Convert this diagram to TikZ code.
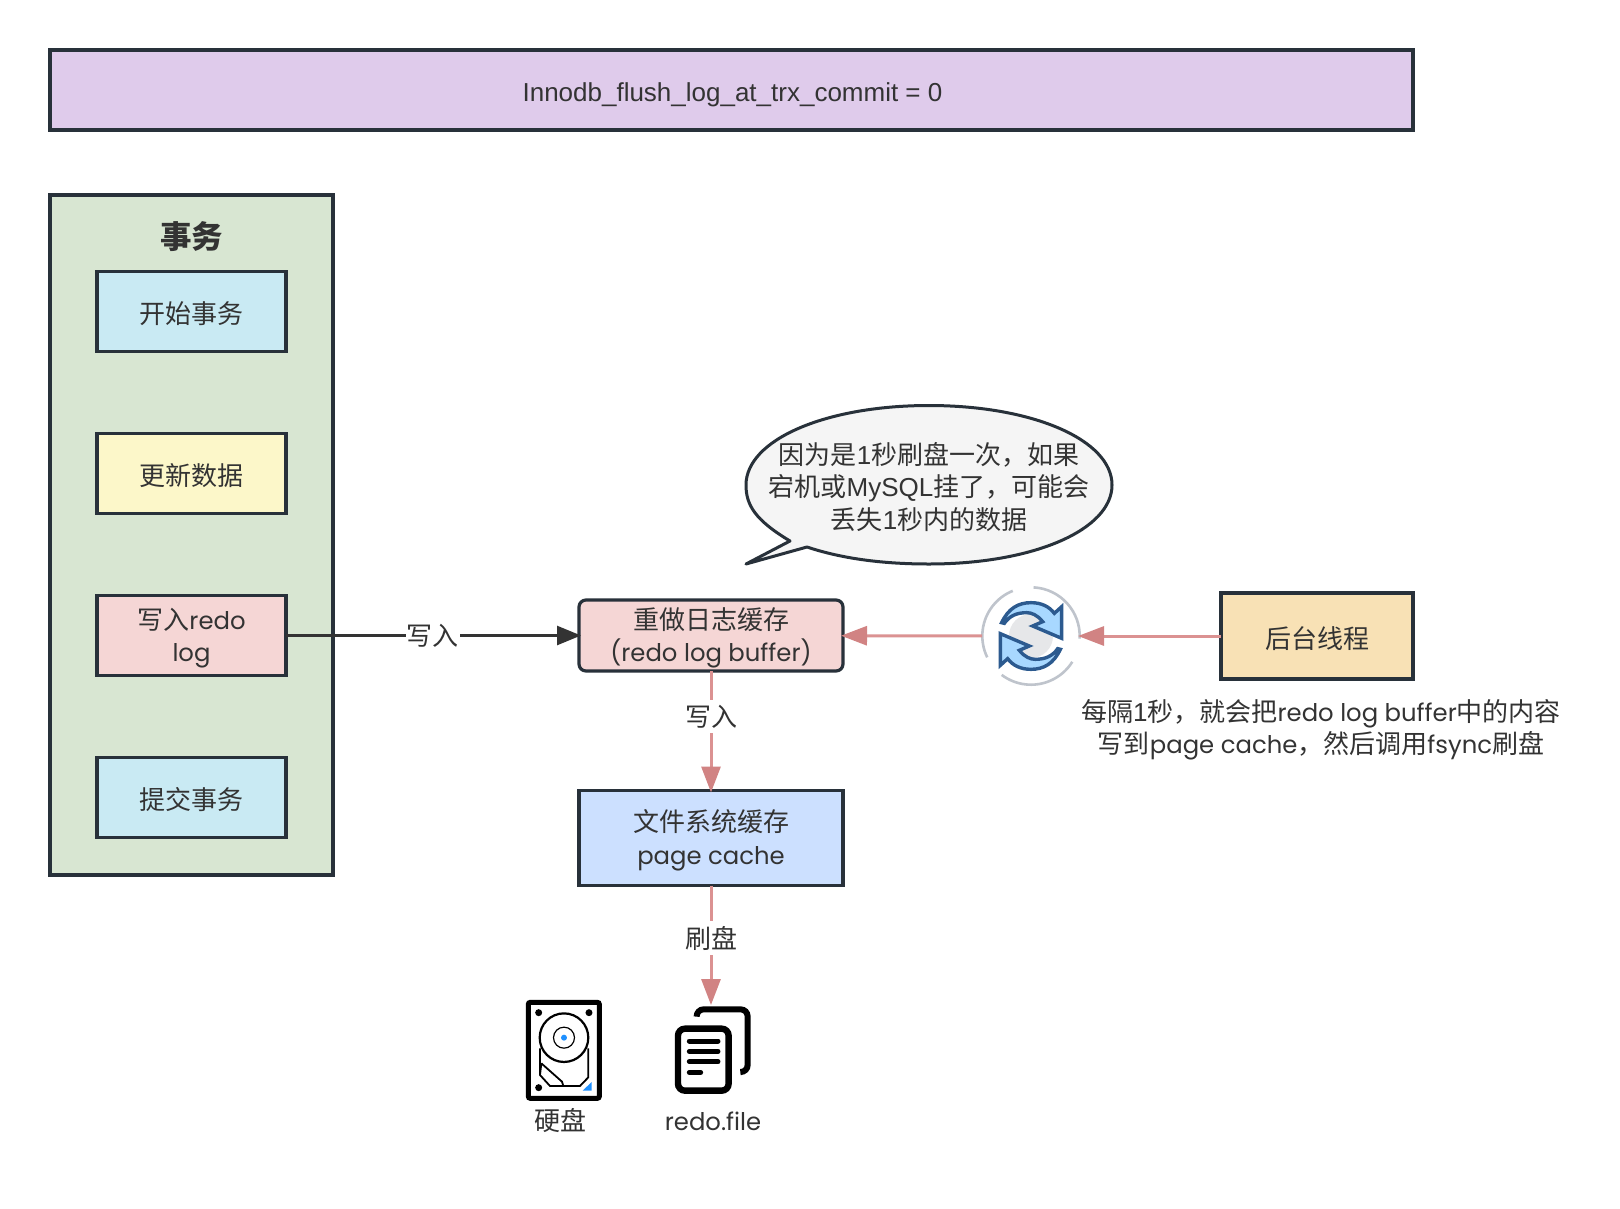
\documentclass[tikz,border=0pt]{standalone}
\usepackage{fontspec}
\usetikzlibrary{arrows.meta,shapes.geometric}
\setmainfont[Scale=0.935,Ligatures=NoCommon]{Poppins}
\newfontfamily\cjk{Noto Sans CJK SC}
\newfontfamily\hv{Liberation Sans}
\newcommand{\cj}[1]{{\cjk #1}}
\definecolor{ink}{HTML}{333333}
\definecolor{edgec}{HTML}{28313A}
\definecolor{pinkln}{HTML}{DB9292}
\definecolor{pinkhd}{HTML}{D18383}
\definecolor{purplef}{HTML}{DFCBEB}
\definecolor{greenf}{HTML}{D8E6D2}
\definecolor{cyanf}{HTML}{C9EAF3}
\definecolor{yellowf}{HTML}{FCF7C9}
\definecolor{pinkf}{HTML}{F5D6D5}
\definecolor{bluef}{HTML}{CCE0FF}
\definecolor{orangef}{HTML}{F8E1B5}
\definecolor{grayf}{HTML}{F5F5F5}
\definecolor{syncgray}{HTML}{BFC4CC}
\definecolor{syncdisc}{HTML}{E6E7E9}
\definecolor{syncline}{HTML}{2C5A8F}
\definecolor{syncfill}{HTML}{A8D8FF}
\definecolor{dotblue}{HTML}{1E90FF}
\tikzset{
  txt/.style={text=ink,font=\fontsize{26}{32.5}\selectfont,align=center,inner sep=0pt},
  boxn/.style={draw=edgec,line width=3.2pt,rectangle,outer sep=0pt},
  boxtext/.style={label={[txt,yshift=-2.5pt]center:#1}},
  txbox/.style={boxn,minimum width=189pt,minimum height=80pt},
  midbox/.style={boxn,minimum width=264pt},
  lbl/.style={txt,fill=white,inner xsep=1pt,inner ysep=5pt},
  pinkarrow/.style={draw=pinkln,line width=3pt,shorten >=-2pt,-{Triangle[length=26pt,width=19pt,color=pinkhd]}},
  blackarrow/.style={draw=ink,line width=2.6pt,shorten >=-2pt,-{Triangle[length=24pt,width=19pt,color=ink]}},
  ghost/.style={inner sep=0pt,outer sep=0pt}
}
\begin{document}
\begin{tikzpicture}[x=1pt,y=-1pt]
\useasboundingbox (0,0) rectangle (1620,1208);
\fill[white] (0,0) rectangle (1620,1208);

% top banner
\node[boxn,fill=purplef,minimum width=1363pt,minimum height=80pt] (banner) at (731.5,90) {};
\node[txt,font=\hv\fontsize{26}{33}\selectfont] (bannertext) at (732.5,95) {Innodb\_flush\_log\_at\_trx\_commit = 0};

% transaction panel
\node[boxn,fill=greenf,minimum width=283pt,minimum height=680pt] (panel) at (191.5,535) {};
\node[txt,font=\cjk\bfseries\fontsize{31.5}{33}\selectfont] (paneltitle) at (191.5,237) {事务};
\node[txbox,fill=cyanf,boxtext={\cj{开始事务}}] (begin) at (191.5,311.5) {};
\node[txbox,fill=yellowf,boxtext={\cj{更新数据}}] (update) at (191.5,473.5) {};
\node[txbox,fill=pinkf,boxtext={\cj{写入}redo\\log}] (write) at (191.5,635.5) {};
\node[txbox,fill=cyanf,boxtext={\cj{提交事务}}] (commit) at (191.5,797.5) {};

% middle column
\node[midbox,fill=pinkf,rounded corners=7pt,minimum height=71pt,boxtext={\cj{重做日志缓存}\\(redo log buffer)}] (buffer) at (711,635.5) {};
\node[midbox,fill=bluef,minimum height=95pt,boxtext={\cj{文件系统缓存}\\page cache}] (cache) at (711,838) {};

% right column
\node[boxn,fill=orangef,minimum width=192pt,minimum height=86pt,boxtext={\cj{后台线程}}] (thread) at (1317,636) {};
\node[txt] (threadnote) at (1321,730) {\cj{每隔}{\hv 1}\cj{秒，就会把}redo log buffer\cj{中的内容}\\\cj{写到}page cache\cj{，然后调用}fsync\cj{刷盘}};

% sync icon
\node[circle,ghost,minimum size=98pt] (sync) at (1031,636) {};
\fill[syncdisc] (sync.center) circle[radius=22pt];
\draw[syncgray,line width=2.6pt] ([shift={(112:48.7pt)}]sync.center) arc[start angle=112,end angle=206,radius=48.7pt];
\draw[syncgray,line width=2.6pt] ([shift={(233:48.7pt)}]sync.center) arc[start angle=233,end angle=328,radius=48.7pt];
\draw[syncgray,line width=2.6pt] ([shift={(-3:48.7pt)}]sync.center) arc[start angle=-3,end angle=87,radius=48.7pt];
\begin{scope}[shift={(950,560)},x=0.3333pt,y=-0.3333pt]
  \foreach \ang in {0,180}{
  \begin{scope}[rotate around={\ang:(243,228)}]
  \draw[syncline,fill=syncfill,line width=3.4pt,line join=miter]
    (155,188) .. controls (175,145) and (205,128) .. (243,128)
    .. controls (275,128) and (298,140) .. (313,160)
    -- (335,140) -- (335,235) -- (248,198) -- (278,185)
    .. controls (262,165) and (245,158) .. (230,158)
    .. controls (200,158) and (178,168) .. (163,190) -- cycle;
  \end{scope}}
\end{scope}

% callout
\node[ellipse,ghost,minimum width=368pt,minimum height=159pt] (bubble) at (929,485) {};
\coordinate (tailtip) at (746,564);
\draw[edgec,fill=grayf,line width=3pt,line join=round]
  (790,541) .. controls (755,520) and (746,505) .. (746,485)
  .. controls (746,440) and (825,405.5) .. (929,405.5)
  .. controls (1033,405.5) and (1112,440) .. (1112,485)
  .. controls (1112,530) and (1033,564) .. (929,564)
  .. controls (880,564) and (840,558) .. (807,547) -- (tailtip) -- cycle;
\node[txt] (bubbletext) at (929,487) {\cj{因为是}{\hv 1}\cj{秒刷盘一次，如果}\\\cj{宕机或}{\hv MySQL}\cj{挂了，可能会}\\\cj{丢失}{\hv 1}\cj{秒内的数据}};

% disk icon
\node[rectangle,ghost,minimum width=74pt,minimum height=99pt] (disk) at (564,1050.5) {};
\begin{scope}[shift={(500,980)},x=0.3333pt,y=-0.3333pt]
  \draw[black,fill=white,line width=5pt,rounded corners=2pt] (85,67) rectangle (298,355);
  \fill[black] (116,98) circle[radius=3.5pt] (267,98) circle[radius=3.5pt] (116,323) circle[radius=3.5pt];
  \draw[black,line width=1.8pt,line join=round] (120,205) -- (120,285) -- (150,318) -- (240,318) -- (265,292) -- (265,205);
  \draw[black,line width=1.8pt,line join=round] (124,250) -- (186,305) -- (190,318);
  \draw[black,line width=1.8pt] (124,250) -- (120,285);
  \draw[black,fill=white,line width=2.2pt] (192,173) circle[radius=24.3pt];
  \draw[black,line width=1.2pt] (192,173) circle[radius=10.5pt];
  \fill[dotblue] (192,173) circle[radius=3pt];
  \fill[dotblue] (275,306) -- (275,332) -- (248,332) -- cycle;
\end{scope}
\node[txt] (disklabel) at (560,1121) {\cj{硬盘}};

% file icon
\node[rectangle,ghost,minimum width=80pt,minimum height=96pt] (file) at (711,1051) {};
\begin{scope}[shift={(500,980)},x=0.3333pt,y=-0.3333pt]
  \draw[black,line width=6pt,line cap=round,rounded corners=7pt] (590,108) -- (590,88) -- (743,88) -- (743,276) -- (725,276);
  \draw[black,fill=white,line width=6.4pt,rounded corners=7pt] (534,146) rectangle (686,332);
  \draw[black,line width=5pt,line cap=round] (568,183) -- (654,183) (568,214) -- (654,214) (568,245) -- (654,245) (568,277) -- (602,277);
\end{scope}
\node[txt] (filelabel) at (713,1121) {redo.file};

% connectors
\draw[blackarrow] (write) -- node[lbl] {\cj{写入}} (buffer);
\draw[pinkarrow] (thread) -- (sync);
\draw[pinkarrow] (sync) -- (buffer);
\draw[pinkarrow] (buffer) -- node[lbl,pos=0.38] {\cj{写入}} (cache);
\draw[pinkarrow] (cache) -- node[lbl,pos=0.45] {\cj{刷盘}} (file);
\end{tikzpicture}
\end{document}
